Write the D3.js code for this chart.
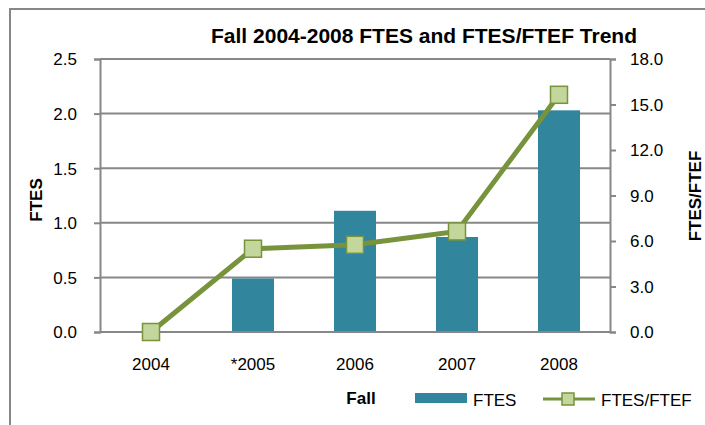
<!DOCTYPE html>
<html>
<head>
<meta charset="utf-8">
<script src="https://cdn.jsdelivr.net/npm/d3@7"></script>
<style>
  body { margin: 0; background: #fff; }
  text { font-family: "Liberation Sans", Arial, sans-serif; fill: #000; }
</style>
</head>
<body>
<div id="chart"></div>
<script>
// data
var years = ["2004", "*2005", "2006", "2007", "2008"];
var ftes = [0, 0.49, 1.11, 0.87, 2.03];
var ftesPerFtef = [0, 5.49, 5.75, 6.63, 15.64];
var leftTicks = [0, 0.5, 1.0, 1.5, 2.0, 2.5];
var rightTicks = [0, 3, 6, 9, 12, 15, 18];

var barColor = "#31859c",
    lineColor = "#77933c",
    markerFill = "#c3d69b",
    gridColor = "#878787";

var margin = {top: 59, right: 95, bottom: 93, left: 100},
    W = 705, H = 425,
    width = W - margin.left - margin.right,
    height = H - margin.top - margin.bottom;

var svg = d3.select("#chart").append("svg")
    .attr("width", W)
    .attr("height", H);

// outer chart border
svg.append("rect")
    .attr("x", 10).attr("y", 9)
    .attr("width", 720).attr("height", 440)
    .attr("fill", "none")
    .attr("stroke", gridColor)
    .attr("stroke-width", 2);

svg.append("text")
    .attr("x", 424).attr("y", 43)
    .attr("text-anchor", "middle")
    .style("font-size", "21px")
    .style("font-weight", "bold")
    .text("Fall 2004-2008 FTES and FTES/FTEF Trend");

var g = svg.append("g")
    .attr("transform", "translate(" + margin.left + "," + margin.top + ")");

var x = d3.scaleBand().domain(years).range([0, width])
    .paddingInner(0.588).paddingOuter(0.294);
var yL = d3.scaleLinear().domain([0, 2.5]).range([height, 0]);
var yR = d3.scaleLinear().domain([0, 18]).range([height, 0]);

// gridlines
g.selectAll(".grid").data(leftTicks).enter().append("line")
    .attr("x1", 0).attr("x2", width)
    .attr("y1", function(d){ return yL(d); })
    .attr("y2", function(d){ return yL(d); })
    .attr("stroke", gridColor)
    .attr("stroke-width", 2);

// left axis
var axL = g.append("g")
    .call(d3.axisLeft(yL).tickValues(leftTicks).tickFormat(d3.format(".1f")).tickSize(6).tickPadding(17));
axL.select(".domain").attr("stroke", gridColor).attr("stroke-width", 2);
axL.selectAll(".tick line").attr("stroke", gridColor).attr("stroke-width", 2);
axL.selectAll("text").style("font-size", "17px").attr("dy", "0.35em");

// right axis
var axR = g.append("g")
    .attr("transform", "translate(" + width + ",0)")
    .call(d3.axisRight(yR).tickValues(rightTicks).tickFormat(d3.format(".1f")).tickSize(6).tickPadding(14));
axR.select(".domain").attr("stroke", gridColor).attr("stroke-width", 2);
axR.selectAll(".tick line").attr("stroke", gridColor).attr("stroke-width", 2);
axR.selectAll("text").style("font-size", "17px").attr("dy", "0.35em");

// bottom axis labels
var axB = g.append("g")
    .attr("transform", "translate(0," + height + ")")
    .call(d3.axisBottom(x).tickSize(0).tickPadding(26));
axB.select(".domain").remove();
axB.selectAll("text").style("font-size", "17px");

// bars
g.selectAll(".bar").data(years).enter().append("rect")
    .attr("x", function(d){ return x(d); })
    .attr("y", function(d, i){ return yL(ftes[i]); })
    .attr("width", x.bandwidth())
    .attr("height", function(d, i){ return height - yL(ftes[i]); })
    .attr("fill", barColor);

// redraw baseline over bars
g.append("line")
    .attr("x1", 0).attr("x2", width)
    .attr("y1", height).attr("y2", height)
    .attr("stroke", gridColor).attr("stroke-width", 2);

// line series
var line = d3.line()
    .x(function(d, i){ return x(years[i]) + x.bandwidth() / 2; })
    .y(function(d){ return yR(d); });

g.append("path")
    .datum(ftesPerFtef)
    .attr("d", line)
    .attr("fill", "none")
    .attr("stroke", lineColor)
    .attr("stroke-width", 5);

var ms = 17;
g.selectAll(".marker").data(ftesPerFtef).enter().append("rect")
    .attr("x", function(d, i){ return x(years[i]) + x.bandwidth() / 2 - ms / 2; })
    .attr("y", function(d){ return yR(d) - ms / 2; })
    .attr("width", ms).attr("height", ms)
    .attr("fill", markerFill)
    .attr("stroke", lineColor)
    .attr("stroke-width", 1.5);

// axis titles
svg.append("text")
    .attr("transform", "translate(42,200)rotate(-90)")
    .attr("text-anchor", "middle")
    .style("font-size", "17px").style("font-weight", "bold")
    .text("FTES");

svg.append("text")
    .attr("transform", "translate(701,196)rotate(-90)")
    .attr("text-anchor", "middle")
    .style("font-size", "17px").style("font-weight", "bold")
    .text("FTES/FTEF");

svg.append("text")
    .attr("x", 361).attr("y", 404)
    .attr("text-anchor", "middle")
    .style("font-size", "17px").style("font-weight", "bold")
    .text("Fall");

// legend
svg.append("rect")
    .attr("x", 415).attr("y", 393)
    .attr("width", 52).attr("height", 10)
    .attr("fill", barColor);
svg.append("text")
    .attr("x", 473).attr("y", 406)
    .style("font-size", "17px")
    .text("FTES");

svg.append("line")
    .attr("x1", 543).attr("x2", 595)
    .attr("y1", 399).attr("y2", 399)
    .attr("stroke", lineColor).attr("stroke-width", 3);
svg.append("rect")
    .attr("x", 562).attr("y", 393)
    .attr("width", 12).attr("height", 12)
    .attr("fill", markerFill)
    .attr("stroke", lineColor).attr("stroke-width", 1.5);
svg.append("text")
    .attr("x", 601).attr("y", 406)
    .style("font-size", "17px")
    .text("FTES/FTEF");
</script>
</body>
</html>
